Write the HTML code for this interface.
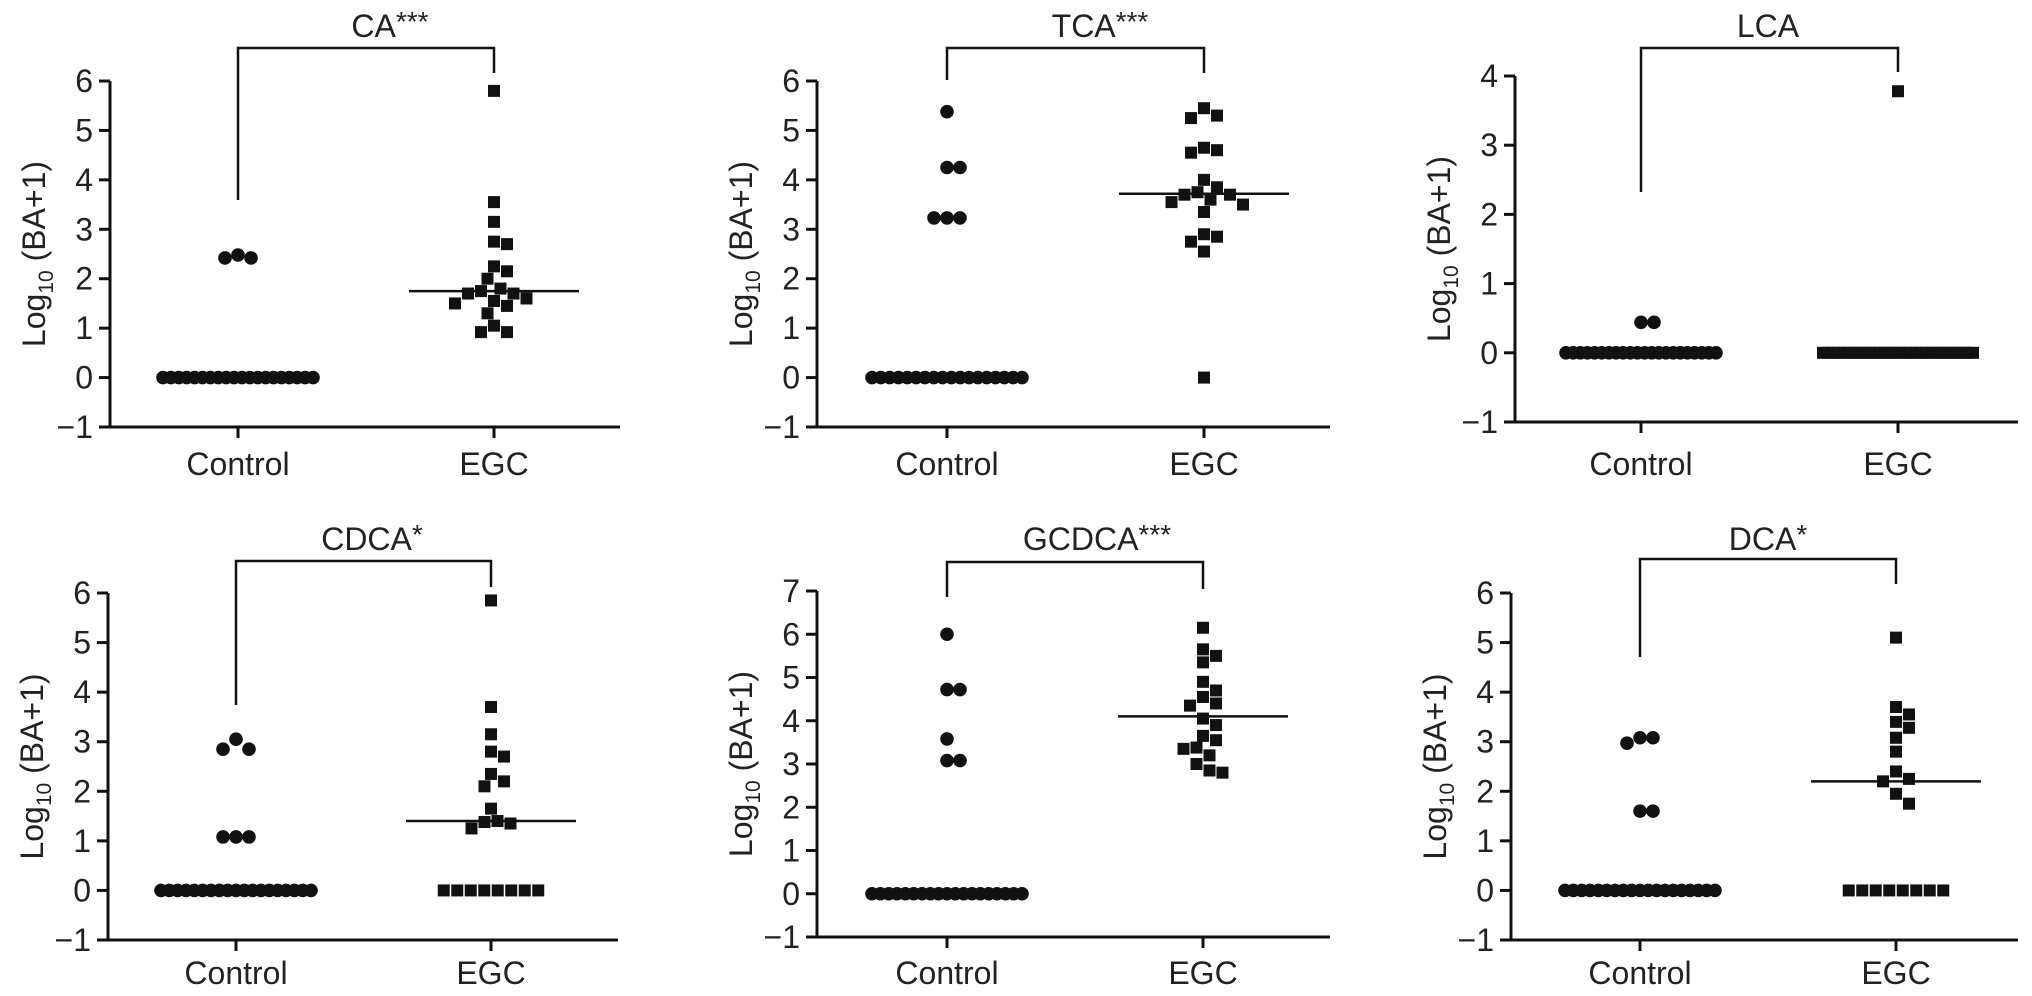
<!DOCTYPE html>
<html><head><meta charset="utf-8"><style>
html,body{margin:0;padding:0;background:#fff;}
svg{display:block;font-family:"Liberation Sans",Arial,sans-serif;}
</style></head><body>
<svg id="fig" width="2032" height="996" viewBox="0 0 2032 996" xmlns="http://www.w3.org/2000/svg"></svg>
<script>
// ---- data ----
const panelTitles = ["CA***","TCA***","LCA","CDCA*","GCDCA***","DCA*"];
const categories = ["Control","EGC"];
const yMaxes = [6,6,4,6,7,6];
const z = n => Array(n).fill(0);
const caControl = [2.48,2.42,2.42].concat(z(20));
const caEGC = [5.8,3.55,3.15,2.75,2.7,2.25,2.15,2.0,1.8,1.75,1.7,1.7,1.6,1.55,1.5,1.45,1.3,1.05,0.92,0.92];
const tcaControl = [5.38,4.25,4.25,3.23,3.23,3.23].concat(z(18));
const tcaEGC = [5.45,5.3,5.25,4.65,4.6,4.55,4.0,3.85,3.75,3.7,3.7,3.6,3.55,3.5,3.35,2.9,2.85,2.75,2.55,0];
const lcaControl = [0.44,0.44].concat(z(22));
const lcaEGC = [3.78].concat(z(30));
const cdcaControl = [3.05,2.85,2.85,1.08,1.08,1.08].concat(z(19));
const cdcaEGC = [5.85,3.7,3.15,2.8,2.7,2.35,2.2,2.1,1.65,1.4,1.38,1.35,1.25].concat(z(8));
const gcdcaControl = [6.0,4.72,4.72,3.58,3.08,3.08].concat(z(19));
const gcdcaEGC = [6.15,5.65,5.5,5.35,4.9,4.7,4.55,4.4,4.35,4.05,3.9,3.65,3.55,3.38,3.35,3.2,3.0,2.85,2.8];
const dcaControl = [3.08,3.08,2.97,1.6,1.6].concat(z(19));
const dcaEGC = [5.1,3.7,3.55,3.4,3.28,3.08,2.8,2.4,2.25,2.2,1.95,1.75].concat(z(8));
const egcMedians = [1.75,3.72,null,1.4,4.1,2.2];
const controlSeries = [caControl,tcaControl,lcaControl,cdcaControl,gcdcaControl,dcaControl];
const egcSeries = [caEGC,tcaEGC,lcaEGC,cdcaEGC,gcdcaEGC,dcaEGC];

// ---- layout ----
const layouts = [
 {ax:110,xEnd:620,yTop:81,yBot:427,c0:238,c1:494,bT:48,bL:200,bR:73,tx:390,ty:37,lb:475},
 {ax:817,xEnd:1330,yTop:81,yBot:427,c0:947,c1:1204,bT:48,bL:80,bR:73,tx:1100,ty:37,lb:475},
 {ax:1515,xEnd:2018,yTop:76,yBot:422,c0:1641,c1:1898,bT:48,bL:192,bR:72,tx:1768,ty:37,lb:475},
 {ax:108,xEnd:618,yTop:593,yBot:940,c0:236,c1:491,bT:561,bL:705,bR:587,tx:372,ty:550,lb:984},
 {ax:817,xEnd:1330,yTop:591,yBot:937,c0:947,c1:1203,bT:562,bL:597,bR:589,tx:1097,ty:550,lb:984},
 {ax:1511,xEnd:2018,yTop:593,yBot:940,c0:1640,c1:1896,bT:559,bL:657,bR:584,tx:1768,ty:550,lb:984}
];
const NS="http://www.w3.org/2000/svg";
const svg=document.getElementById('fig');
function mk(tag,attrs,parent){const e=document.createElementNS(NS,tag);for(const k in attrs)e.setAttribute(k,attrs[k]);(parent||svg).appendChild(e);return e;}

function swarm(vals,ys,cx){
  const D=13, out=[];
  const zeros=vals.filter(v=>v===0).length;
  const placed=[];
  if(zeros>0){
    const sp=Math.min(13.5,150/Math.max(1,zeros-1));
    for(let i=0;i<zeros;i++){const x=cx+(i-(zeros-1)/2)*sp;out.push([x,ys(0)]);placed.push([x,ys(0)]);}
  }
  vals.filter(v=>v!==0).sort((a,b)=>b-a).forEach(v=>{
    const y=ys(v);
    for(let k=0;k<60;k++){
      const off=(k%2?1:-1)*Math.ceil(k/2)*D*0.5;
      const x=cx+off;
      if(placed.every(p=>Math.hypot(p[0]-x,p[1]-y)>=D-0.5)){placed.push([x,y]);out.push([x,y]);break;}
    }
  });
  return out;
}

layouts.forEach((L,i)=>{
  const g=mk('g',{});
  
  
  const yMin=-1,yMax=yMaxes[i];
  const ys=v=>L.yBot-(v-yMin)*(L.yBot-L.yTop)/(yMax-yMin);
  const ya=mk('line',{x1:L.ax,y1:L.yTop,x2:L.ax,y2:L.yBot+1.5,stroke:'#111','stroke-width':3},g);
  
  
  const xa=mk('line',{x1:L.ax-11,y1:L.yBot,x2:L.xEnd,y2:L.yBot,stroke:'#111','stroke-width':3},g);
  
  
  for(let v=yMin;v<=yMax;v++){
    const y=ys(v);
    const t=mk('line',{x1:L.ax-11,y1:y,x2:L.ax,y2:y,stroke:'#111','stroke-width':3},g);
    
    
    const tl=mk('text',{x:L.ax-17,y:y+11,'font-size':32,'text-anchor':'end',fill:'#222'},g);
    tl.textContent=v<0?'\u2212'+Math.abs(v):String(v);
    
    
  }
  [L.c0,L.c1].forEach((cx,j)=>{
    const t=mk('line',{x1:cx,y1:L.yBot,x2:cx,y2:L.yBot+11,stroke:'#111','stroke-width':3},g);
    
    
    const tl=mk('text',{x:cx,y:L.lb,'font-size':32,'text-anchor':'middle',fill:'#222'},g);
    tl.textContent=categories[j];
    
    
  });
  const lx=L.ax-76, ly=(L.yTop+L.yBot)/2;
  const yl=mk('text',{x:0,y:0,'font-size':32,'text-anchor':'middle',fill:'#222',transform:`translate(${lx+11},${ly}) rotate(-90)`},g);
  yl.innerHTML='Log<tspan font-size="21" dy="8">10</tspan><tspan dy="-8"> (BA+1)</tspan>';
  
  
  const br=mk('polyline',{points:`${L.c0},${L.bL} ${L.c0},${L.bT} ${L.c1},${L.bT} ${L.c1},${L.bR}`,fill:'none',stroke:'#111','stroke-width':2.5},g);
  
  
  const tt=mk('text',{x:L.tx,y:L.ty,'font-size':32,'text-anchor':'middle',fill:'#222'},g);
  const m=panelTitles[i].match(/^([A-Z]+)(\**)$/);
  tt.innerHTML=m[1]+(m[2]?'<tspan font-size="28" dy="-6">'+m[2]+'</tspan>':'');
  
  
  swarm(controlSeries[i],ys,L.c0).forEach(p=>{
    const c=mk('circle',{cx:p[0],cy:p[1],r:6.8,fill:'#111'},g);
    
    
  });
  swarm(egcSeries[i],ys,L.c1).forEach(p=>{
    const r=mk('rect',{x:p[0]-6,y:p[1]-6,width:12,height:12,fill:'#111'},g);
    
    
  });
  if(egcMedians[i]!==null){
    const y=ys(egcMedians[i]);
    const ml=mk('line',{x1:L.c1-85,y1:y,x2:L.c1+85,y2:y,stroke:'#111','stroke-width':2.5},g);
    
    
  }
});
</script>
</body></html>
